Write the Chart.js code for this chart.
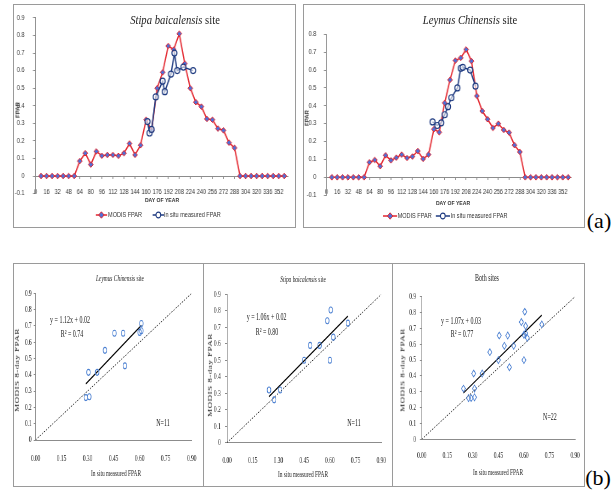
<!DOCTYPE html>
<html>
<head>
<meta charset="utf-8">
<script src="https://cdn.jsdelivr.net/npm/chart.js@4.4.1/dist/chart.umd.min.js"></script>
<style>
html, body { margin: 0; padding: 0; background: #fff; }
#page { position: relative; width: 616px; height: 492px; overflow: hidden; background: #fff; }
.frame { position: absolute; box-sizing: border-box; border: 1px solid #9a9a9a; }
.wrap { position: absolute; transform-origin: 0 0; }
.wrap canvas { position: absolute; left: 0; top: 0; }
.t { position: absolute; white-space: nowrap; transform: translate(-50%, -50%); line-height: 1; }
.l { position: absolute; white-space: nowrap; transform: translateY(-50%); line-height: 1; }
.rot { transform: translate(-50%, -50%) rotate(-90deg); }
.serif { font-family: 'Liberation Serif', 'Times New Roman', serif; color: #222; }
.sans { font-family: 'Liberation Sans', Arial, sans-serif; color: #333; }
.lg svg { position: absolute; }
</style>
</head>
<body>
<div id="page">
  <!-- frames -->
  <div class="frame" style="left:13px;top:4px;width:283px;height:224px"></div>
  <div class="frame" style="left:303px;top:4px;width:282px;height:224px"></div>
  <div class="frame" style="left:13px;top:263px;width:191px;height:224px"></div>
  <div class="frame" style="left:203px;top:263px;width:190px;height:224px"></div>
  <div class="frame" style="left:392px;top:263px;width:193px;height:224px"></div>

  <!-- (a) top left: Stipa -->
  <div class="wrap" style="left:13px;top:4px;width:333px;height:220px;transform:scaleX(0.85)">
    <canvas id="tsStipa" width="333" height="214"></canvas>
    <div class="t serif" style="left:190.6px;top:16px;font-size:12.5px"><i>Stipa baicalensis</i> site</div>
    <div class="t rot sans" style="left:5.9px;top:106px;font-size:6px;font-weight:bold">FPAR</div>
    <div class="t sans" style="left:175.3px;top:196px;font-size:6px;font-weight:bold">DAY OF YEAR</div>
    <div class="lg">
      <svg style="left:97px;top:207px" width="14" height="8"><line x1="0" y1="4" x2="14" y2="4" stroke="#e3262e" stroke-width="1.5"/><path d="M7 0.8 L10.2 4 L7 7.2 L3.8 4Z" fill="#4f6fd6" stroke="#e3262e" stroke-width="1"/></svg>
      <div class="l sans" style="left:111.8px;top:211px;font-size:6.5px">MODIS FPAR</div>
      <svg style="left:163.5px;top:207px" width="14" height="8"><line x1="0" y1="4" x2="14" y2="4" stroke="#1e3a80" stroke-width="1.5"/><circle cx="7" cy="4" r="2.8" fill="#fff" stroke="#1e3a80" stroke-width="1.2"/></svg>
      <div class="l sans" style="left:177.6px;top:211px;font-size:6.5px">In situ measured FPAR</div>
    </div>
  </div>

  <!-- (a) top right: Leymus -->
  <div class="wrap" style="left:303px;top:4px;width:331px;height:220px;transform:scaleX(0.85)">
    <canvas id="tsLeymus" width="331" height="214"></canvas>
    <div class="t serif" style="left:196.5px;top:16px;font-size:12.5px"><i>Leymus Chinensis</i> site</div>
    <div class="t rot sans" style="left:4.7px;top:114px;font-size:6px;font-weight:bold">FPAR</div>
    <div class="t sans" style="left:176.5px;top:199px;font-size:6px;font-weight:bold">DAY OF YEAR</div>
    <div class="lg">
      <svg style="left:94px;top:208px" width="17" height="8"><line x1="0" y1="4" x2="17" y2="4" stroke="#e3262e" stroke-width="1.5"/><path d="M8.5 0.8 L11.7 4 L8.5 7.2 L5.3 4Z" fill="#4f6fd6" stroke="#e3262e" stroke-width="1"/></svg>
      <div class="l sans" style="left:111.4px;top:212px;font-size:6.5px">MODIS FPAR</div>
      <svg style="left:156px;top:208px" width="17" height="8"><line x1="0" y1="4" x2="17" y2="4" stroke="#1e3a80" stroke-width="1.5"/><circle cx="8.5" cy="4" r="2.8" fill="#fff" stroke="#1e3a80" stroke-width="1.2"/></svg>
      <div class="l sans" style="left:173.8px;top:212px;font-size:6.5px">In situ measured FPAR</div>
    </div>
  </div>
  <div class="t serif" style="left:599px;top:221px;font-size:22px;color:#000">(a)</div>

  <!-- (b) scatter 1: Leymus -->
  <div class="wrap" style="left:13px;top:263px;width:316px;height:224px;transform:scaleX(0.6)">
    <canvas id="scLeymus" width="316" height="215"></canvas>
    <div class="t serif" style="left:178.3px;top:15px;font-size:9px"><i>Leymus Chinensis</i> site</div>
    <div class="t serif" style="left:95px;top:57px;font-size:10px">y = 1.12x + 0.02</div>
    <div class="t serif" style="left:98.3px;top:71px;font-size:10px">R² = 0.74</div>
    <div class="t serif" style="left:250px;top:160px;font-size:10px">N=11</div>
    <div class="t serif" style="left:171.7px;top:210px;font-size:9px">In situ measured FPAR</div>
    <div class="t rot serif" style="left:6.7px;top:107px;font-size:9px;letter-spacing:0.5px">MODIS 8-day FPAR</div>
  </div>

  <!-- (b) scatter 2: Stipa -->
  <div class="wrap" style="left:203px;top:263px;width:315px;height:224px;transform:scaleX(0.6)">
    <canvas id="scStipa" width="315" height="215"></canvas>
    <div class="t serif" style="left:166.7px;top:16px;font-size:9px"><i>Stipa baicalensis</i> site</div>
    <div class="t serif" style="left:106px;top:54px;font-size:10px">y = 1.06x + 0.02</div>
    <div class="t serif" style="left:106.7px;top:69px;font-size:10px">R² = 0.80</div>
    <div class="t serif" style="left:251.7px;top:160px;font-size:10px">N=11</div>
    <div class="t serif" style="left:166.7px;top:211px;font-size:9px">In situ measured FPAR</div>
    <div class="t rot serif" style="left:11.7px;top:112px;font-size:9px;letter-spacing:0.5px">MODIS 8-day FPAR</div>
  </div>

  <!-- (b) scatter 3: both -->
  <div class="wrap" style="left:392px;top:263px;width:321px;height:224px;transform:scaleX(0.6)">
    <canvas id="scBoth" width="321" height="215"></canvas>
    <div class="t serif" style="left:158.3px;top:15px;font-size:10px">Both sites</div>
    <div class="t serif" style="left:115px;top:58px;font-size:10px">y = 1.07x + 0.03</div>
    <div class="t serif" style="left:116.7px;top:71px;font-size:10px">R² = 0.77</div>
    <div class="t serif" style="left:263.3px;top:154px;font-size:10px">N=22</div>
    <div class="t serif" style="left:176.7px;top:209px;font-size:9px">In situ measured FPAR</div>
    <div class="t rot serif" style="left:18.3px;top:107px;font-size:9px;letter-spacing:0.5px">MODIS 8-day FPAR</div>
  </div>
  <div class="t serif" style="left:598px;top:478px;font-size:22px;color:#000">(b)</div>
</div>

<script>
// ---- data ----
// MODIS 8-day composites (day of year)
var days = [8, 16, 24, 32, 40, 48, 56, 64, 72, 80, 88, 96, 104, 112, 120, 128, 136, 144, 152, 160, 168, 176, 184,
  192, 200, 208, 216, 224, 232, 240, 248, 256, 264, 272, 280, 288, 296, 304, 312, 320, 328, 336, 344, 352, 360];

var stipaModis = [0, 0, 0, 0, 0, 0, 0,
  0.085, 0.13, 0.065, 0.14, 0.115, 0.12, 0.12, 0.115, 0.13, 0.185, 0.12, 0.175, 0.32, 0.26, 0.50, 0.59,
  0.74, 0.72, 0.81, 0.64, 0.50, 0.42, 0.395, 0.325, 0.32, 0.27, 0.26, 0.19, 0.16,
  0, 0, 0, 0, 0, 0, 0, 0, 0];
var stipaInsituDays = [162, 165, 168, 174, 184, 187, 196, 201, 205, 214, 228];
var stipaInsitu = [0.31, 0.245, 0.265, 0.45, 0.54, 0.48, 0.58, 0.70, 0.60, 0.62, 0.60];

var leymusModis = [0, 0, 0, 0, 0, 0, 0,
  0.084, 0.097, 0.062, 0.123, 0.095, 0.11, 0.127, 0.108, 0.116, 0.147, 0.103, 0.127, 0.269, 0.252, 0.416, 0.545,
  0.653, 0.668, 0.715, 0.65, 0.455, 0.371, 0.325, 0.276, 0.30, 0.265, 0.25, 0.18, 0.142,
  0, 0, 0, 0, 0, 0, 0, 0, 0];
var leymusInsituDays = [158, 165, 171, 176, 181, 186, 195, 200, 203, 214, 222];
var leymusInsitu = [0.31, 0.29, 0.305, 0.35, 0.395, 0.445, 0.50, 0.61, 0.615, 0.60, 0.51];

// scatter: in situ (x) vs MODIS (y)
var leymusX = [0.29, 0.31, 0.305, 0.355, 0.40, 0.455, 0.505, 0.515, 0.60, 0.61, 0.61];
var leymusY = [0.26, 0.265, 0.415, 0.415, 0.55, 0.655, 0.655, 0.455, 0.66, 0.67, 0.715];
var stipaX = [0.245, 0.275, 0.31, 0.45, 0.485, 0.54, 0.585, 0.605, 0.60, 0.62, 0.705];
var stipaY = [0.32, 0.26, 0.32, 0.50, 0.59, 0.59, 0.74, 0.805, 0.50, 0.64, 0.725];

// regression fits [slope, intercept]
var leymusFit = [1.12, 0.02];
var stipaFit = [1.06, 0.02];
var bothFit = [1.07, 0.03];

// tick labels
var dayTickLabels = [0, 16, 32, 48, 64, 80, 96, 112, 128, 144, 160, 176, 192, 208, 224, 240, 256, 272, 288, 304, 320, 336, 352];
var fparTicksA = [-0.1, 0, 0.1, 0.2, 0.3, 0.4, 0.5, 0.6, 0.7, 0.8, 0.9];
var fparTicksB = [-0.1, 0, 0.1, 0.2, 0.3, 0.4, 0.5, 0.6, 0.7, 0.8];
var scatterXTicks = [0, 0.15, 0.30, 0.45, 0.60, 0.75, 0.90];
var scatterYTicks = [0, 0.1, 0.2, 0.3, 0.4, 0.5, 0.6, 0.7, 0.8, 0.9];

// ---- colours ----
var red = '#e3262e';
var markBlue = '#4f6fd6';
var navy = '#1e3a80';
var scBlue = '#4a7fd1';
var axisGrey = '#8c8c8c';

function pts(xs, ys) {
  return xs.map(function (x, i) { return { x: x, y: ys[i] }; });
}
function useTicks(list) {
  return function (s) { s.ticks = list.map(function (v) { return { value: v }; }); };
}
function fmt1(v) { return Math.abs(v) < 1e-9 ? '0' : v.toFixed(1); }

function timeSeries(id, modis, inDays, insitu, yTicks, lay) {
  var tickFont = { family: "'Liberation Sans', Arial, sans-serif", size: 6.5 };
  return new Chart(document.getElementById(id), {
    type: 'line',
    data: {
      datasets: [{
        label: 'In situ measured FPAR',
        data: pts(inDays, insitu),
        borderColor: navy,
        borderWidth: 1.5,
        pointStyle: 'circle',
        pointRadius: 3,
        pointBackgroundColor: 'rgba(255,255,255,0.6)',
        pointBorderColor: navy,
        pointBorderWidth: 1.2,
        tension: 0,
        order: 0
      }, {
        label: 'MODIS FPAR',
        data: pts(days, modis),
        borderColor: red,
        borderWidth: 1.5,
        pointStyle: 'rectRot',
        pointRadius: 2.8,
        pointBackgroundColor: markBlue,
        pointBorderColor: red,
        pointBorderWidth: 1,
        tension: 0,
        order: 1
      }]
    },
    options: {
      responsive: false,
      animation: false,
      events: [],
      layout: { padding: { left: 0, top: lay.padTop, right: lay.padRight, bottom: lay.padBottom } },
      plugins: { legend: { display: false }, tooltip: { enabled: false } },
      scales: {
        x: {
          type: 'linear',
          position: { y: 0 },
          min: 0,
          max: 365,
          grid: { drawOnChartArea: false, tickLength: 2, color: axisGrey },
          border: { color: axisGrey },
          ticks: { autoSkip: false, maxRotation: 0, padding: lay.xPad, color: '#333', font: tickFont },
          afterBuildTicks: useTicks(dayTickLabels)
        },
        y: {
          min: yTicks[0],
          max: yTicks[yTicks.length - 1],
          grid: { drawOnChartArea: false, tickLength: 3, color: axisGrey },
          border: { color: axisGrey },
          ticks: { padding: lay.yPad, color: '#333', font: tickFont, autoSkip: false, callback: fmt1 },
          afterBuildTicks: useTicks(yTicks),
          afterFit: function (s) { s.width = lay.yW; }
        }
      }
    }
  });
}

function scatter(id, groups, fit, lay) {
  var allX = [], allY = [];
  groups.forEach(function (g) { allX = allX.concat(g.x); allY = allY.concat(g.y); });
  var x0 = Math.min.apply(null, allX), x1 = Math.max.apply(null, allX);
  var tickFont = { family: "'Liberation Serif','Times New Roman',serif", size: 9 };
  var sets = [{
    data: pts(allX, allY),
    pointStyle: lay.marker,
    pointRadius: lay.marker === 'rectRot' ? 3.4 : 3,
    pointBackgroundColor: 'rgba(255,255,255,0)',
    pointBorderColor: scBlue,
    pointBorderWidth: 1.1
  }, {
    data: [{ x: x0, y: fit[0] * x0 + fit[1] }, { x: x1, y: fit[0] * x1 + fit[1] }],
    showLine: true,
    borderColor: '#000',
    borderWidth: 1.4,
    pointRadius: 0
  }, {
    data: [{ x: 0, y: 0 }, { x: 0.9, y: 0.9 }],
    showLine: true,
    borderColor: '#222',
    borderWidth: 1,
    borderDash: [2, 2],
    pointRadius: 0
  }];
  return new Chart(document.getElementById(id), {
    type: 'scatter',
    data: { datasets: sets },
    options: {
      responsive: false,
      animation: false,
      events: [],
      layout: { padding: { left: 0, top: lay.padTop, right: lay.padRight, bottom: 0 } },
      plugins: { legend: { display: false }, tooltip: { enabled: false } },
      scales: {
        x: {
          min: 0,
          max: 0.9,
          grid: { display: false },
          border: { color: axisGrey },
          ticks: { padding: lay.xPad, maxRotation: 0, autoSkip: false, color: '#222', font: tickFont,
            callback: function (v) { return v.toFixed(2); } },
          afterBuildTicks: useTicks(scatterXTicks),
          afterFit: function (s) { s.height = lay.xH; }
        },
        y: {
          min: 0,
          max: 0.9,
          grid: { drawOnChartArea: false, tickLength: 3, color: axisGrey },
          border: { color: axisGrey },
          ticks: { padding: lay.yPad, autoSkip: false, color: '#222', font: tickFont, callback: fmt1 },
          afterBuildTicks: useTicks(scatterYTicks),
          afterFit: function (s) { s.width = lay.yW; }
        }
      }
    }
  });
}

timeSeries('tsStipa', stipaModis, stipaInsituDays, stipaInsitu, fparTicksA,
  { padTop: 10.7, padRight: 9.8, padBottom: 24.4, yW: 26.5, xPad: 10, yPad: 10 });
timeSeries('tsLeymus', leymusModis, leymusInsituDays, leymusInsitu, fparTicksB,
  { padTop: 30.3, padRight: 15.1, padBottom: 22.8, yW: 27.6, xPad: 8.5, yPad: 9 });

scatter('scLeymus', [{ x: leymusX, y: leymusY }], leymusFit,
  { padTop: 30.3, padRight: 18.2, yW: 37.5, xH: 38, xPad: 5.6, yPad: 3.5, marker: 'circle' });
scatter('scStipa', [{ x: stipaX, y: stipaY }], stipaFit,
  { padTop: 31.3, padRight: 17.8, yW: 40, xH: 35.3, xPad: 4.9, yPad: 7.5, marker: 'circle' });
scatter('scBoth', [{ x: leymusX, y: leymusY }, { x: stipaX, y: stipaY }], bothFit,
  { padTop: 33.7, padRight: 16, yW: 49.5, xH: 38.7, xPad: 3.3, yPad: 6.5, marker: 'rectRot' });
</script>
</body>
</html>
